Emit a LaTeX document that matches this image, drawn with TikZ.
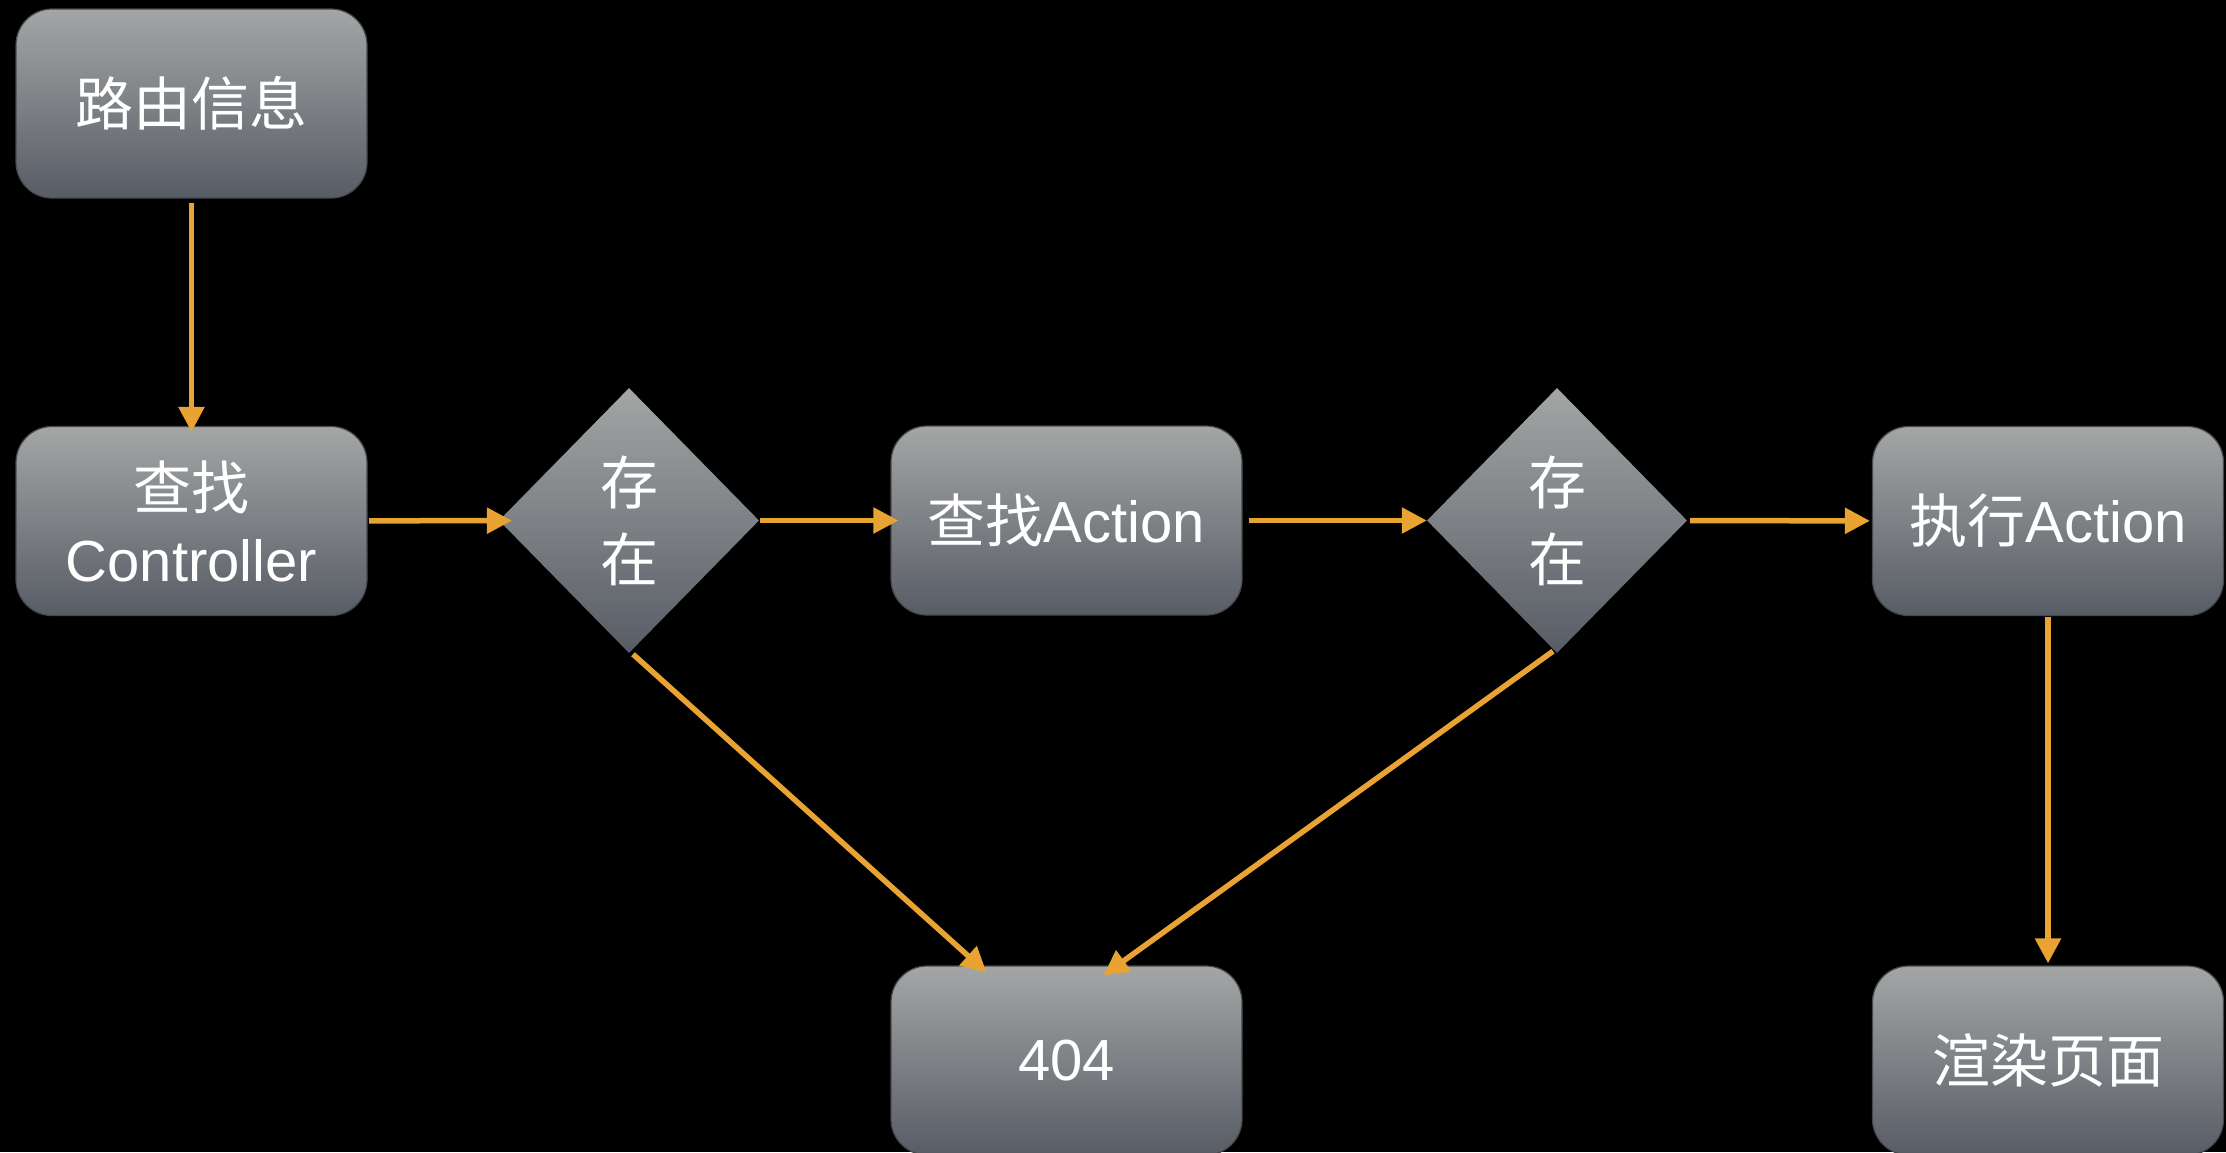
\documentclass[tikz,border=0pt]{standalone}
\usepackage{fontspec}
\setmainfont{Liberation Sans}
\newfontfamily\cjk{Noto Sans CJK SC}
\usetikzlibrary{shapes.geometric,arrows.meta}
\definecolor{topgray}{RGB}{163,166,165}
\definecolor{botgray}{RGB}{88,92,101}
\definecolor{edgegray}{RGB}{70,72,76}
\definecolor{arrowc}{RGB}{233,163,50}
\begin{document}
\begin{tikzpicture}[x=1pt,y=-1pt,
  box/.style={rectangle, rounded corners=36pt, minimum width=351pt, minimum height=189pt,
    top color=topgray, bottom color=botgray, draw=edgegray, line width=1.2pt,
    text=white, font=\fontsize{58}{72}\selectfont, align=center, inner sep=0pt},
  dia/.style={diamond, minimum width=260pt, minimum height=265pt,
    top color=topgray, bottom color=botgray, draw=none,
    text=white, font=\cjk\fontsize{58}{77}\selectfont, align=center, inner sep=0pt},
  conn/.style={draw=arrowc, line width=5.5pt, -{Triangle[length=25pt,width=25pt]}}]
\useasboundingbox (0,0) rectangle (2226,1152);
\fill[black] (0,0) rectangle (2226,1152);

\node[box] (b1) at (191.5,103.5) {{\cjk 路由信息}};
\node[box] (b2) at (191.5,521) {{\cjk 查找}\\Controller};
\node[dia] (d1) at (629,520.5) {存\\在};
\node[box] (b3) at (1066.5,520.5) {{\cjk 查找}Action};
\node[dia] (d2) at (1557,520.5) {存\\在};
\node[box] (b4) at (2048,521) {{\cjk 执行}Action};
\node[box] (e) at (1066.5,1060.5) {404};
\node[box] (b6) at (2048,1060.5) {{\cjk 渲染页面}};

\draw[conn, shorten <=4pt, shorten >=-6pt] (b1) -- (b2);
\draw[conn, shorten <=1.5pt, shorten >=-13pt] (b2) -- (d1);
\draw[conn, shorten <=1pt, shorten >=-8pt] (d1) -- (b3);
\draw[conn, shorten <=6pt] (b3) -- (d2);
\draw[conn, shorten <=3pt, shorten >=2pt] (d2) -- (b4);
\draw[conn, shorten <=1pt, shorten >=2pt] (b4) -- (b6);
\draw[conn] ([shift={(4,1)}]d1.south) -- ([shift={(-80,7)}]e.north);
\draw[conn] ([shift={(-4,-2)}]d2.south) -- ([shift={(37,10)}]e.north);
\end{tikzpicture}
\end{document}
